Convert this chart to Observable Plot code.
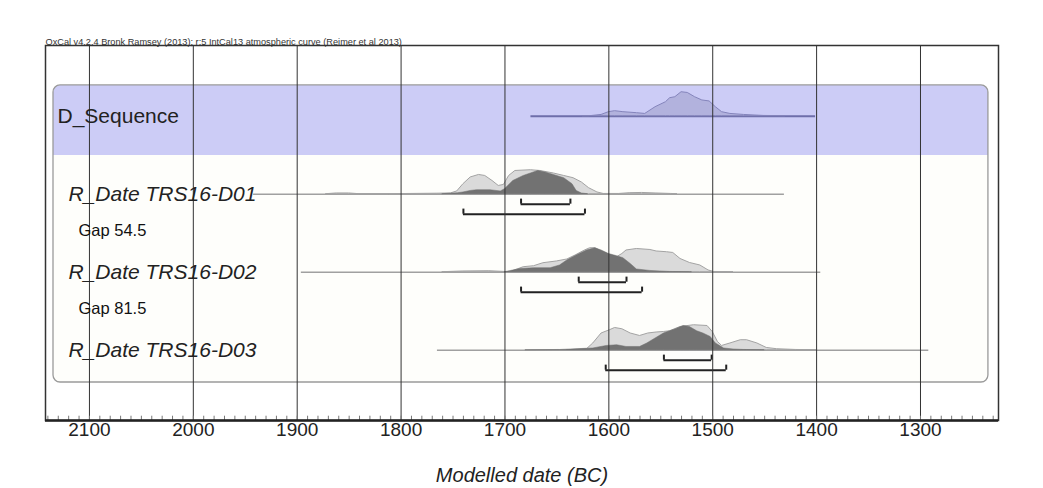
<!DOCTYPE html>
<html>
<head>
<meta charset="utf-8">
<script src="https://cdn.jsdelivr.net/npm/d3@7"></script>
<script src="https://cdn.jsdelivr.net/npm/@observablehq/plot@0.6"></script>
<style>
  html, body { margin: 0; padding: 0; background: #ffffff; }
  #chart svg { display: block; }
</style>
</head>
<body>
<div id="chart"></div>
<script>
// ---------- data ----------
const headerText = "OxCal v4.2.4 Bronk Ramsey (2013); r:5 IntCal13 atmospheric curve (Reimer et al 2013)";
const axisTitle = "Modelled date (BC)";
const tickYears = [2100, 2000, 1900, 1800, 1700, 1600, 1500, 1400, 1300];

const rowNames = ["D_Sequence", "R_Date TRS16-D01", "R_Date TRS16-D02", "R_Date TRS16-D03"];
const rowLineFrom = [1675, 1942, 1896, 1765];
const rowLineTo = [1401, 1431, 1396, 1292];
const gapNames = ["Gap 54.5", "Gap 81.5"];

// highest posterior density ranges for R_Date rows (D01..D03)
const hpd68From = [1684.5, 1629, 1547];
const hpd68To = [1637, 1583, 1501];
const hpd95From = [1740, 1684.5, 1603];
const hpd95To = [1623, 1568, 1487];

// probability curves [year BC, relative probability]
const seqDensity = [[1625,0],[1618,0],[1607,0.05],[1600,0.16],[1594,0.2],[1586,0.16],[1573,0.12],[1565,0.09],[1555,0.36],[1545,0.56],[1541,0.72],[1536,0.76],[1530,0.96],[1524,0.93],[1517,0.76],[1510,0.63],[1503,0.59],[1497,0.36],[1491,0.16],[1483,0.09],[1470,0.05],[1451,0.01],[1430,0]];
const d01Prior = [[1872,0],[1862,0.03],[1850,0.03],[1840,0],[1812,0],[1790,0.01],[1765,0.02],[1752,0.03],[1746,0.11],[1740,0.4],[1733,0.67],[1725,0.77],[1719,0.73],[1712,0.53],[1706,0.33],[1701,0.37],[1696,0.73],[1690,0.93],[1675,0.96],[1666,0.93],[1653,0.83],[1643,0.73],[1634,0.64],[1626,0.47],[1619,0.24],[1611,0.07],[1605,0.01],[1590,0.01],[1580,0.04],[1568,0.05],[1555,0.03],[1540,0.01],[1534,0]];
const d01Post = [[1760,0],[1745,0.04],[1740,0.07],[1733,0.13],[1727,0.16],[1714,0.16],[1704,0.11],[1700,0.2],[1692,0.53],[1682,0.73],[1675,0.83],[1668,0.93],[1661,0.87],[1653,0.77],[1643,0.64],[1635,0.4],[1631,0.13],[1626,0.03],[1620,0]];
const d02Prior = [[1760,0],[1740,0.03],[1715,0.04],[1700,0.01],[1695,0],[1682,0.2],[1672,0.24],[1663,0.36],[1650,0.43],[1640,0.51],[1632,0.67],[1623,0.87],[1618,0.96],[1613,0.96],[1607,0.83],[1599,0.69],[1592,0.6],[1587,0.73],[1583,0.87],[1573,0.93],[1560,0.89],[1554,0.83],[1544,0.8],[1538,0.77],[1531,0.53],[1522,0.37],[1512,0.27],[1504,0.07],[1499,0.01],[1480,0]];
const d02Post = [[1700,0],[1685,0.13],[1672,0.16],[1656,0.16],[1647,0.27],[1640,0.47],[1631,0.67],[1621,0.87],[1613,0.96],[1607,0.87],[1600,0.73],[1592,0.64],[1586,0.56],[1579,0.33],[1573,0.11],[1560,0.05],[1541,0.01],[1520,0]];
const d03Prior = [[1640,0],[1621,0.04],[1615,0.27],[1607,0.67],[1599,0.8],[1594,0.89],[1587,0.84],[1579,0.67],[1570,0.57],[1562,0.67],[1554,0.71],[1547,0.73],[1541,0.76],[1531,0.93],[1518,1.0],[1505,0.97],[1500,0.73],[1495,0.33],[1491,0.17],[1483,0.27],[1473,0.4],[1467,0.4],[1457,0.27],[1448,0.09],[1438,0.04],[1420,0.01],[1400,0]];
const d03Post = [[1680,0],[1647,0.01],[1615,0.07],[1602,0.17],[1592,0.2],[1583,0.13],[1570,0.13],[1563,0.27],[1555,0.47],[1547,0.67],[1541,0.76],[1536,0.83],[1528,0.97],[1522,0.93],[1515,0.76],[1509,0.67],[1502,0.53],[1497,0.27],[1489,0.07],[1480,0.03],[1470,0.01],[1450,0]];

// ---------- build tables ----------
const K = 0.32;            // row units per unit of relative probability
const yTop = -0.906, yBottom = 3.901;
const toRows = (arr, row, kind) => arr.map(([year, p]) => ({year, row, kind, y1: row, y2: row - p * K}));

const seqArea = toRows(seqDensity, 0, "seq");
const priorArea = [...toRows(d01Prior, 1, "p1"), ...toRows(d02Prior, 2, "p2"), ...toRows(d03Prior, 3, "p3")];
const postArea = [...toRows(d01Post, 1, "q1"), ...toRows(d02Post, 2, "q2"), ...toRows(d03Post, 3, "q3")];

const rows = rowNames.map((name, i) => ({name, row: i, from: rowLineFrom[i], to: rowLineTo[i]}));
const gaps = gapNames.map((name, i) => ({name, row: i + 1.5}));
const brackets = [];
hpd68From.forEach((f, i) => brackets.push({row: i + 1, off: 0.128, from: f, to: hpd68To[i]}));
hpd95From.forEach((f, i) => brackets.push({row: i + 1, off: 0.256, from: f, to: hpd95To[i]}));
const bracketEnds = brackets.flatMap(b => [{x: b.from, row: b.row, off: b.off}, {x: b.to, row: b.row, off: b.off}]);

const minorYears = d3.range(1230, 2141, 10);
const box = [{x1: 2134.6, x2: 1234.6, y1: -0.394, y2: 3.414}];
const band = [{x1: 2134.6, x2: 1234.6, y1: -0.394, y2: 0.504}];
const bandSquare = [{x1: 2134.6, x2: 1234.6, y1: 0.1, y2: 0.504}];

const font = "'Liberation Sans', Arial, sans-serif";

const chart = Plot.plot({
  width: 1043,
  height: 488,
  marginLeft: 45,
  marginRight: 45,
  marginTop: 45,
  marginBottom: 68,
  style: {fontFamily: font, background: "#ffffff", color: "#222"},
  x: {domain: [2142.3, 1224.9], axis: null},
  y: {domain: [yTop, yBottom], reverse: true, axis: null},
  marks: [
    // rounded box and blue band
    Plot.rect(box, {x1: "x1", x2: "x2", y1: "y1", y2: "y2", fill: "#fefefb", rx: 7}),
    Plot.rect(band, {x1: "x1", x2: "x2", y1: "y1", y2: "y2", fill: "#ccccf6", rx: 7}),
    Plot.rect(bandSquare, {x1: "x1", x2: "x2", y1: "y1", y2: "y2", fill: "#ccccf6"}),
    // row baselines
    Plot.ruleY(rows.filter(r => r.row > 0), {y: "row", x1: "from", x2: "to", stroke: "#a0a0a0", strokeWidth: 1.6}),
    Plot.ruleY(rows.filter(r => r.row === 0), {y: "row", x1: "from", x2: "to", stroke: "#6e6eaa", strokeWidth: 2}),
    // distributions
    Plot.areaY(seqArea, {x: "year", y1: "y1", y2: "y2", z: "kind", fill: "#b2b2dd", stroke: "#8484bb", strokeWidth: 1, curve: "linear"}),
    Plot.areaY(priorArea, {x: "year", y1: "y1", y2: "y2", z: "kind", fill: "#dadada", stroke: "#a3a3a3", strokeWidth: 1, curve: "linear"}),
    Plot.areaY(postArea, {x: "year", y1: "y1", y2: "y2", z: "kind", fill: "#727272", stroke: "#6a6a6a", strokeWidth: 0.5, curve: "linear"}),
    // HPD brackets
    Plot.ruleY(brackets, {y: d => d.row + d.off, x1: "from", x2: "to", stroke: "#222", strokeWidth: 2}),
    Plot.ruleX(bracketEnds, {x: "x", y1: d => d.row + d.off, y2: d => d.row + d.off - 0.065, stroke: "#222", strokeWidth: 2}),
    // box outline
    Plot.rect(box, {x1: "x1", x2: "x2", y1: "y1", y2: "y2", fill: "none", stroke: "#9a9a9a", strokeWidth: 1.3, rx: 7}),
    // grid lines
    Plot.ruleX(tickYears, {stroke: "#333", strokeWidth: 1}),
    // minor ticks
    Plot.ruleX(minorYears, {x: d => d, y1: yBottom, y2: yBottom - 0.055, stroke: "#777", strokeWidth: 1}),
    // frame and axis
    Plot.frame({stroke: "#333", strokeWidth: 1.5}),
    Plot.ruleY([yBottom], {stroke: "#222", strokeWidth: 2.5}),
    // tick labels
    Plot.text(tickYears, {x: d => d, text: d => String(d), frameAnchor: "bottom", dy: 15, fontSize: 19, fill: "#222"}),
    // axis title
    Plot.text([axisTitle], {frameAnchor: "bottom", dy: 61, fontSize: 20, fontStyle: "italic", fill: "#222"}),
    // header
    Plot.text([headerText], {frameAnchor: "top-left", dy: -7, textAnchor: "start", fontSize: 9.2, fill: "#333"}),
    // row labels
    Plot.text(rows.filter(r => r.row === 0), {y: "row", text: "name", frameAnchor: "left", dx: 12, textAnchor: "start", fontSize: 21, fill: "#222"}),
    Plot.text(rows.filter(r => r.row > 0), {y: "row", text: "name", frameAnchor: "left", dx: 23, textAnchor: "start", fontSize: 21, fontStyle: "italic", fill: "#222"}),
    Plot.text(gaps, {y: "row", text: "name", frameAnchor: "left", dx: 33, dy: -2, textAnchor: "start", fontSize: 16.5, fill: "#111"})
  ]
});
document.getElementById("chart").appendChild(chart);
</script>
</body>
</html>
